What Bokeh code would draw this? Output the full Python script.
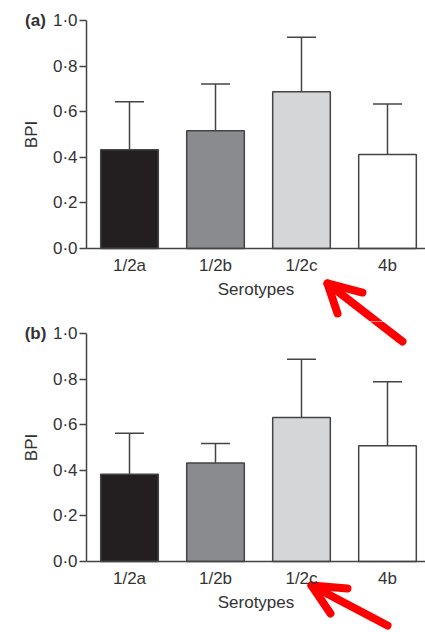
import numpy as np
from bokeh.plotting import figure
from bokeh.layouts import column
from bokeh.models import (ColumnDataSource, Range1d, FixedTicker, Whisker, TeeHead, Label)
from bokeh.embed import file_html
from bokeh.resources import INLINE

# ---- data ----
serotypes = ["1/2a", "1/2b", "1/2c", "4b"]
bar_colors = ["#231f20", "#8a8b8e", "#d5d6d8", "#ffffff"]
bpi_a = [0.433, 0.516, 0.688, 0.412]
sd_a = [0.211, 0.206, 0.239, 0.222]
bpi_b = [0.383, 0.432, 0.632, 0.508]
sd_b = [0.179, 0.086, 0.255, 0.280]
y_ticks = [0.0, 0.2, 0.4, 0.6, 0.8, 1.0]
y_tick_labels = ["0·0", "0·2", "0·4", "0·6", "0·8", "1·0"]
panel_labels = ["(a)", "(b)"]

FONT = "Liberation Sans"
TXT = "#333333"
LINE = "#444444"
RED = "#ff0000"

PX_X = 86.0    # px per category
PX_Y = 228.0   # px per BPI unit
LEFT_PX = 86   # space left of the y axis
WIDTH = 425


def make_panel(vals, errs, label, height, top_pad):
    xs = np.arange(len(serotypes)) + 0.5
    src = ColumnDataSource(dict(x=xs, top=vals, upper=np.array(vals) + np.array(errs),
                                color=bar_colors, name=serotypes))
    y_end = 1.0 + top_pad / PX_Y
    y_start = y_end - height / PX_Y
    x_start = -LEFT_PX / PX_X
    x_end = x_start + WIDTH / PX_X
    p = figure(width=WIDTH, height=height,
               x_range=Range1d(x_start, x_end), y_range=Range1d(y_start, y_end),
               output_backend="svg", toolbar_location=None,
               min_border_left=0, min_border_right=0, min_border_top=0,
               min_border_bottom=0)
    p.outline_line_color = None
    p.grid.visible = False
    p.background_fill_color = "white"
    p.border_fill_color = "white"

    p.vbar(x="x", top="top", bottom=0, width=0.67, source=src, fill_color="color",
           line_color=LINE, line_width=1.5)
    w = Whisker(source=src, base="x", lower="top", upper="upper", line_color=LINE,
                line_width=1.5, lower_head=None,
                upper_head=TeeHead(size=29, line_color=LINE, line_width=1.5))
    p.add_layout(w)

    # x axis (placed at BPI = 0)
    xa = p.xaxis[0]
    xa.fixed_location = 0
    xa.bounds = (0, x_end)
    xa.ticker = FixedTicker(ticks=list(xs))
    xa.major_label_overrides = {float(x): s for x, s in zip(xs, serotypes)}
    xa.major_tick_in = 0
    xa.major_tick_out = 0
    xa.minor_tick_line_color = None
    xa.axis_line_color = LINE
    xa.axis_line_width = 1.5
    xa.major_label_text_font = FONT
    xa.major_label_text_font_size = "17px"
    xa.major_label_text_color = TXT
    xa.major_label_standoff = 7
    xa.axis_label = "Serotypes"
    xa.axis_label_text_font = FONT
    xa.axis_label_text_font_size = "17px"
    xa.axis_label_text_font_style = "normal"
    xa.axis_label_text_color = TXT
    xa.axis_label_standoff = 2

    # y axis (placed at the left edge of the first category)
    ya = p.yaxis[0]
    ya.fixed_location = 0
    ya.bounds = (0, 1)
    ya.ticker = FixedTicker(ticks=y_ticks)
    ya.major_label_overrides = {t: s for t, s in zip(y_ticks, y_tick_labels)}
    ya.major_tick_in = 0
    ya.major_tick_out = 7
    ya.major_tick_line_color = LINE
    ya.major_tick_line_width = 1.5
    ya.minor_tick_line_color = None
    ya.axis_line_color = LINE
    ya.axis_line_width = 1.5
    ya.major_label_text_font = FONT
    ya.major_label_text_font_size = "17px"
    ya.major_label_text_color = TXT
    ya.major_label_standoff = 2
    ya.axis_label = "BPI"
    ya.axis_label_text_font = FONT
    ya.axis_label_text_font_size = "17px"
    ya.axis_label_text_font_style = "normal"
    ya.axis_label_text_color = TXT
    ya.axis_label_standoff = 9

    p.add_layout(Label(x=-0.593, y=1.0, text=label, text_font=FONT, text_font_size="17px",
                       text_font_style="bold", text_color=TXT, text_align="center",
                       text_baseline="middle"))
    return p


pa = make_panel(bpi_a, sd_a, panel_labels[0], 321, 20)
pb = make_panel(bpi_b, sd_b, panel_labels[1], 311, 12)


def red_arrow(p, tip, tail, arm1=None, arm2=None):
    p.segment(x0=tail[0], y0=tail[1], x1=tip[0], y1=tip[1], line_color=RED,
              line_width=8, line_cap="round")
    if arm1 is not None:
        p.line(x=[arm1[0], tip[0], arm2[0]], y=[arm1[1], tip[1], arm2[1]],
               line_color=RED, line_width=8, line_join="round", line_cap="round")


# red pointer arrows drawn on the original picture (annotation, not data)
red_arrow(pa, tip=(2.802, -0.1535), tail=(3.674, -0.408),
          arm1=(3.209, -0.193), arm2=(2.919, -0.285))
red_arrow(pb, tip=(2.802, 1.219), tail=(3.674, 0.965))
red_arrow(pb, tip=(2.616, -0.105), tail=(3.5, -0.281),
          arm1=(3.035, -0.118), arm2=(2.837, -0.228))

layout = column(pa, pb, spacing=0)
open("out.html", "w").write(file_html(layout, INLINE))
